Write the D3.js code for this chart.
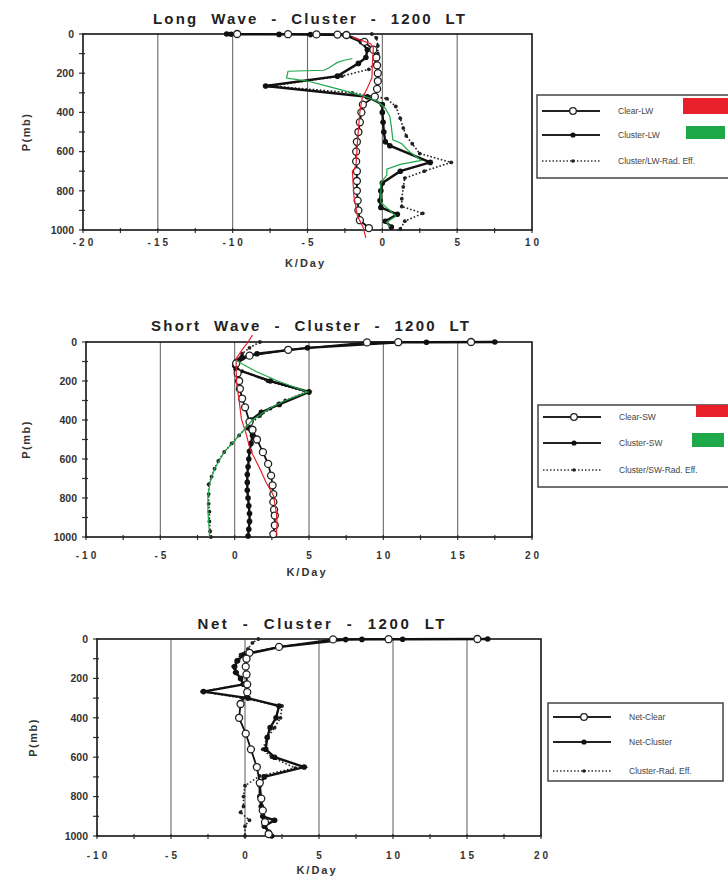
<!DOCTYPE html>
<html><head><meta charset="utf-8">
<script src="https://cdn.jsdelivr.net/npm/d3@7"></script>
<style>body{margin:0;background:#fff}svg{display:block}</style>
</head><body><svg id="c" width="728" height="877"></svg>
<script>
// ---------------- DATA ----------------
const pressureTicks = [0, 200, 400, 600, 800, 1000];
const lwXTicks = [-20, -15, -10, -5, 0, 5, 10];
const swXTicks = [-10, -5, 0, 5, 10, 15, 20];
const netXTicks = [-10, -5, 0, 5, 10, 15, 20];

// Long wave
const lwClearP = [0,1,2,3,5,40,80,120,160,200,240,280,320,360,400,450,500,550,600,650,700,750,800,850,900,950,990];
const lwClearV = [-9.7,-6.3,-4.4,-3.0,-2.4,-1.2,-0.6,-0.4,-0.35,-0.3,-0.3,-0.35,-0.5,-1.3,-1.4,-1.5,-1.6,-1.7,-1.75,-1.75,-1.7,-1.7,-1.7,-1.65,-1.6,-1.5,-0.9];
const lwClusterP = [0,1,2,3,5,40,80,120,150,215,265,320,360,400,450,500,550,570,655,700,760,800,850,885,920,955,985];
const lwClusterV = [-10.4,-10.1,-6.9,-4.8,-2.5,-1.4,-1.0,-1.1,-1.6,-3.0,-7.8,-1.0,0.0,0.0,0.05,0.1,0.2,0.5,3.2,1.2,0.0,-0.1,-0.15,-0.1,1.0,0.2,0.6];
const lwEffP = [0,20,60,100,140,180,215,265,300,330,370,430,480,520,560,610,655,700,735,780,840,880,915,955,995];
const lwEffV = [-0.7,-0.4,-0.3,-0.3,-0.4,-0.9,-2.7,-7.5,-2.0,0.3,0.9,1.2,1.4,1.6,2.0,2.5,4.6,2.8,1.5,1.4,1.3,1.3,2.7,1.5,1.2];
const lwRedP = [17,48,69,138,224,276,328,397,534,655,690,698,828,931,983,1040];
const lwRedV = [-2.0,-0.8,-0.6,-0.65,-0.7,-1.0,-1.35,-1.5,-1.65,-1.75,-1.85,-2.0,-1.9,-1.65,-1.3,-1.1];
const lwGreenP = [125,135,145,160,175,185,190,225,240,270,300,325,345,380,420,470,540,560,600,645,665,690,720,760,800,860,900,930,960,985];
const lwGreenV = [-2.0,-2.6,-3.0,-3.3,-3.6,-3.9,-6.3,-6.4,-5.0,-3.5,-2.0,-0.9,-0.3,0.2,0.5,0.6,0.7,1.3,1.8,2.6,1.2,0.3,0.3,-0.1,-0.1,-0.1,0.5,0.9,0.3,0.5];

// Short wave
const swClearP = [0,1,2,40,70,110,160,200,240,290,335,410,450,500,565,625,685,735,780,820,860,890,940,985];
const swClearV = [15.9,11.0,8.9,3.6,1.0,0.1,0.2,0.3,0.35,0.5,0.7,1.0,1.2,1.5,1.9,2.25,2.45,2.55,2.6,2.6,2.65,2.7,2.7,2.6];
const swClusterP = [0,1,2,30,60,80,100,120,140,200,256,320,360,400,440,480,520,560,600,640,680,720,760,800,840,880,920,960,995];
const swClusterV = [17.5,12.9,11.1,4.9,1.5,0.5,0.1,0.0,0.1,2.4,5.0,3.0,1.8,1.1,0.9,1.2,1.1,1.0,0.95,0.9,0.85,0.85,0.85,0.9,0.95,1.0,1.0,0.95,0.9];
const swEffP = [0,30,60,90,120,150,200,256,300,342,380,420,479,520,564,610,650,690,730,780,830,870,920,970,1000];
const swEffV = [1.7,1.0,0.5,0.2,0.0,0.5,2.2,4.8,3.4,2.4,1.7,1.0,0.3,-0.2,-0.7,-1.1,-1.35,-1.55,-1.75,-1.75,-1.75,-1.7,-1.7,-1.65,-1.6];
const swRedP = [-35,0,40,85,150,222,300,393,479,540,581,650,718,786,872,930,991];
const swRedV = [1.2,0.9,0.5,0.1,0.1,0.15,0.3,0.45,0.8,1.0,1.24,1.7,2.1,2.6,2.8,2.85,2.8];
const swGreenP = [95,150,200,256,300,342,400,479,564,650,718,790,870,974,1000];
const swGreenV = [0.1,1.4,2.9,4.9,3.4,2.3,1.2,0.3,-0.7,-1.35,-1.65,-1.8,-1.8,-1.7,-1.7];

// Net
const netClearP = [0,1,2,40,70,100,140,180,230,270,330,400,480,560,650,730,810,870,930,990];
const netClearV = [15.7,9.7,5.95,2.3,0.3,0.1,0.05,0.1,0.15,0.15,-0.3,-0.4,0.05,0.4,0.8,1.0,1.1,1.2,1.35,1.6];
const netClusterP = [0,1,2,3,40,80,110,140,170,200,230,267,300,340,400,450,500,560,600,650,700,740,800,850,900,920,950,980,1000];
const netClusterV = [16.4,10.65,7.9,6.8,2.4,-0.1,-0.5,-0.7,-0.6,-0.3,-0.1,-2.8,0.2,2.3,2.1,1.7,1.5,1.4,2.0,4.0,1.3,1.0,1.0,1.1,1.2,2.0,1.3,1.6,1.8];
const netEffP = [0,20,50,80,110,140,170,200,230,267,300,340,400,450,500,560,600,655,695,745,800,850,880,920,950,1000];
const netEffV = [0.9,0.5,0.2,-0.3,-0.6,-0.8,-0.7,-0.3,-0.2,-2.9,-0.2,2.5,2.4,2.0,1.5,1.2,1.8,3.4,1.0,0.0,-0.1,-0.1,-0.3,0.3,0.0,0.0];

const lwLabels = ["Clear-LW", "Cluster-LW", "Cluster/LW-Rad. Eff."];
const swLabels = ["Clear-SW", "Cluster-SW", "Cluster/SW-Rad. Eff."];
const netLabels = ["Net-Clear", "Net-Cluster", "Cluster-Rad. Eff."];
const titles = ["Long  Wave  -  Cluster  -  1200  LT", "Short  Wave  -  Cluster  -  1200  LT", "Net  -  Cluster  -  1200  LT"];

// ---------------- DRAW ----------------
const svg = d3.select("#c");
const FONT = "'Liberation Sans', Arial, sans-serif";
const RED = "#e8202a", GREEN = "#1fa84a";
const zip = (P, V) => P.map((p, i) => ({p, v: V[i]}));

function panel(cfg) {
  const x = d3.scaleLinear().domain(cfg.xDomain).range([cfg.l, cfg.r]);
  const y = d3.scaleLinear().domain([0, 1000]).range([cfg.t, cfg.b]);
  const g = svg.append("g");

  // title
  g.append("text").attr("x", cfg.titleX).attr("y", cfg.titleY)
    .attr("text-anchor", "middle").attr("font-family", FONT).attr("font-weight", "bold")
    .attr("font-size", 15).attr("fill", "#222").style("white-space", "pre")
    .attr("textLength", cfg.titleW).attr("lengthAdjust", "spacing")
    .text(cfg.title);

  // grid lines
  g.selectAll(".grid").data(cfg.xTicks.slice(1, -1)).join("line")
    .attr("x1", d => x(d)).attr("x2", d => x(d)).attr("y1", cfg.t).attr("y2", cfg.b)
    .attr("stroke", "#6a6a6a").attr("stroke-width", 1.1);

  // minor ticks x
  const minorX = d3.range(cfg.xDomain[0], cfg.xDomain[1] + 0.01, 2.5);
  g.selectAll(".mx").data(minorX).join("line")
    .attr("x1", d => x(d)).attr("x2", d => x(d)).attr("y1", cfg.b - 2).attr("y2", cfg.b + 3)
    .attr("stroke", "#333").attr("stroke-width", 1.2);
  // y ticks
  const minorY = d3.range(0, 1001, 100);
  g.selectAll(".my").data(minorY).join("line")
    .attr("x1", cfg.l - 4).attr("x2", cfg.l + 2).attr("y1", d => y(d)).attr("y2", d => y(d))
    .attr("stroke", "#333").attr("stroke-width", 1.2);

  // frame
  g.append("rect").attr("x", cfg.l).attr("y", cfg.t).attr("width", cfg.r - cfg.l).attr("height", cfg.b - cfg.t)
    .attr("fill", "none").attr("stroke", "#222").attr("stroke-width", 1.7);

  // x tick labels
  g.selectAll(".xl").data(cfg.xTicks).join("text")
    .attr("x", d => x(d) + 1.5).attr("y", cfg.tickY).attr("text-anchor", "middle")
    .attr("font-family", FONT).attr("font-weight", "bold").attr("font-size", 10)
    .attr("letter-spacing", 3).attr("fill", "#333").text(d => String(d));
  g.append("text").attr("x", (cfg.l + cfg.r) / 2 - 2).attr("y", cfg.kY).attr("text-anchor", "middle")
    .attr("font-family", FONT).attr("font-weight", "bold").attr("font-size", 11)
    .attr("letter-spacing", 2).attr("fill", "#333").text("K/Day");

  // y tick labels
  g.selectAll(".yl").data(pressureTicks).join("text")
    .attr("x", cfg.l - 9).attr("y", d => y(d) + 3.8).attr("text-anchor", "end")
    .attr("font-family", FONT).attr("font-weight", "bold").attr("font-size", 10.5)
    .attr("fill", "#333").text(d => d);
  g.append("text").attr("transform", `translate(${cfg.pX},${(cfg.t + cfg.b) / 2}) rotate(-90)`)
    .attr("text-anchor", "middle").attr("font-family", FONT).attr("font-weight", "bold")
    .attr("font-size", 11).attr("letter-spacing", 1.5).attr("fill", "#333").text("P(mb)");

  const line = d3.line().x(d => x(d.v)).y(d => y(d.p));
  const plot = g.append("g");

  // dotted rad eff
  plot.append("path").datum(cfg.eff).attr("d", line).attr("fill", "none")
    .attr("stroke", "#222").attr("stroke-width", 1.6).attr("stroke-dasharray", "1.6,2");
  plot.selectAll(".ed").data(cfg.eff).join("circle")
    .attr("cx", d => x(d.v)).attr("cy", d => y(d.p)).attr("r", 1.9).attr("fill", "#222");
  // cluster
  plot.append("path").datum(cfg.cluster).attr("d", line).attr("fill", "none")
    .attr("stroke", "#111").attr("stroke-width", 2.4);
  plot.selectAll(".cd").data(cfg.cluster).join("circle")
    .attr("cx", d => x(d.v)).attr("cy", d => y(d.p)).attr("r", 2.8).attr("fill", "#111");
  // clear
  plot.append("path").datum(cfg.clear).attr("d", line).attr("fill", "none")
    .attr("stroke", "#111").attr("stroke-width", 1.8);
  plot.selectAll(".od").data(cfg.clear).join("circle")
    .attr("cx", d => x(d.v)).attr("cy", d => y(d.p)).attr("r", 3.5)
    .attr("fill", "#fff").attr("stroke", "#222").attr("stroke-width", 1.3);
  if (cfg.red) plot.append("path").datum(cfg.red).attr("d", line).attr("fill", "none")
    .attr("stroke", RED).attr("stroke-width", 1.2);
  if (cfg.green) plot.append("path").datum(cfg.green).attr("d", line).attr("fill", "none")
    .attr("stroke", GREEN).attr("stroke-width", 1.2);

  // legend
  const L = cfg.leg;
  g.append("rect").attr("x", L.x).attr("y", L.y).attr("width", L.w).attr("height", L.h)
    .attr("fill", "#fff").attr("stroke", "#444").attr("stroke-width", 1.5);
  cfg.labels.forEach((lab, i) => {
    const ry = L.rows[i];
    const lg = g.append("g");
    if (i === 2) {
      lg.append("line").attr("x1", L.x + 5).attr("x2", L.x + 63).attr("y1", ry).attr("y2", ry)
        .attr("stroke", "#333").attr("stroke-width", 1.5).attr("stroke-dasharray", "1.5,2");
      lg.append("circle").attr("cx", L.x + 36).attr("cy", ry).attr("r", 1.8).attr("fill", "#222");
    } else {
      lg.append("line").attr("x1", L.x + 5).attr("x2", L.x + 63).attr("y1", ry).attr("y2", ry)
        .attr("stroke", "#222").attr("stroke-width", 2);
      if (i === 0) lg.append("circle").attr("cx", L.x + 36).attr("cy", ry).attr("r", 3.3)
        .attr("fill", "#fff").attr("stroke", "#222").attr("stroke-width", 1.3);
      else lg.append("circle").attr("cx", L.x + 36).attr("cy", ry).attr("r", 2.6).attr("fill", "#111");
    }
    lg.append("text").attr("x", L.x + 81).attr("y", ry + 3).attr("font-family", FONT)
      .attr("font-size", 8.5).attr("fill", "#444").text(lab);
  });
  (cfg.swatches || []).forEach(s => {
    g.append("rect").attr("x", s.x).attr("y", s.y).attr("width", s.w).attr("height", s.h).attr("fill", s.c);
  });
}

panel({
  title: titles[0], titleX: 309, titleY: 24, titleW: 312,
  xDomain: [-20, 10], xTicks: lwXTicks, l: 83, r: 532, t: 34, b: 230,
  tickY: 246, kY: 267, pX: 30,
  clear: zip(lwClearP, lwClearV), cluster: zip(lwClusterP, lwClusterV), eff: zip(lwEffP, lwEffV),
  red: zip(lwRedP, lwRedV), green: zip(lwGreenP, lwGreenV),
  labels: lwLabels,
  leg: {x: 537, y: 95, w: 200, h: 83, rows: [111, 135, 161]},
  swatches: [{x: 683, y: 98, w: 45, h: 16, c: RED}, {x: 686, y: 126, w: 39, h: 13, c: GREEN}]
});
panel({
  title: titles[1], titleX: 310, titleY: 331, titleW: 318,
  xDomain: [-10, 20], xTicks: swXTicks, l: 86, r: 532, t: 342, b: 537,
  tickY: 559, kY: 576, pX: 30,
  clear: zip(swClearP, swClearV), cluster: zip(swClusterP, swClusterV), eff: zip(swEffP, swEffV),
  red: zip(swRedP, swRedV), green: zip(swGreenP, swGreenV),
  labels: swLabels,
  leg: {x: 538, y: 405, w: 200, h: 82, rows: [417, 443, 470]},
  swatches: [{x: 696, y: 405, w: 32, h: 12, c: RED}, {x: 692, y: 433, w: 32, h: 14, c: GREEN}]
});
panel({
  title: titles[2], titleX: 321, titleY: 629, titleW: 247,
  xDomain: [-10, 20], xTicks: netXTicks, l: 97, r: 541, t: 639, b: 836,
  tickY: 859, kY: 874, pX: 37,
  clear: zip(netClearP, netClearV), cluster: zip(netClusterP, netClusterV), eff: zip(netEffP, netEffV),
  labels: netLabels,
  leg: {x: 548, y: 703, w: 175, h: 78, rows: [717, 742, 771]}
});
</script></body></html>
